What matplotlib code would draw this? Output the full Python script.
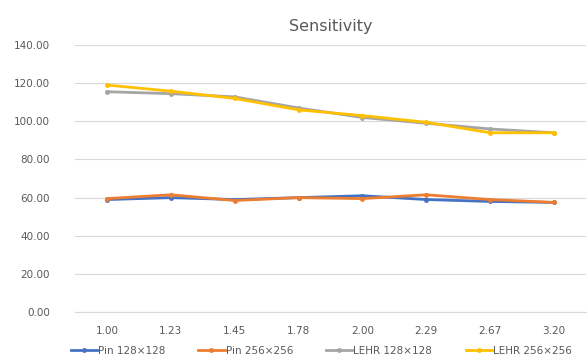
import matplotlib.pyplot as plt
import numpy as np

# chart data
categories = ["1.00", "1.23", "1.45", "1.78", "2.00", "2.29", "2.67", "3.20"]
pin_128 = [59.0, 60.0, 59.0, 60.0, 61.0, 59.0, 58.0, 57.5]
pin_256 = [59.5, 61.5, 58.5, 60.0, 59.5, 61.5, 59.0, 57.5]
lehr_128 = [115.5, 114.5, 112.8, 107.0, 102.0, 99.0, 96.0, 94.0]
lehr_256 = [119.0, 115.8, 112.0, 106.0, 103.0, 99.5, 94.0, 94.0]
series_names = ["Pin 128×128", "Pin 256×256", "LEHR 128×128", "LEHR 256×256"]
y_ticks = [0, 20, 40, 60, 80, 100, 120, 140]

colors = ["#4472C4", "#ED7D31", "#A5A5A5", "#FFC000"]
text_col = "#595959"

fig = plt.figure(figsize=(5.87, 3.6), dpi=100)
ax = fig.add_axes([0.128, 0.133, 0.87, 0.742])

x = np.arange(len(categories))
all_series = [pin_128, pin_256, lehr_128, lehr_256]
for vals, name, c in zip(all_series, series_names, colors):
    ax.plot(x, vals, color=c, lw=2, marker="o", markersize=2.5, label=name)

ax.set_xlim(-0.5, len(categories) - 0.5)
ax.set_ylim(0, 140)
ax.set_yticks(y_ticks)
ax.set_yticklabels(["%.2f" % v for v in y_ticks])
ax.set_xticks(x)
ax.set_xticklabels(categories)
ax.tick_params(length=0, colors=text_col, labelsize=7.5)
ax.tick_params(axis="x", pad=10)
ax.tick_params(axis="y", pad=18)
ax.grid(axis="y", color="#D9D9D9", lw=0.8)
ax.set_axisbelow(True)
for s in ["top", "right", "left"]:
    ax.spines[s].set_visible(False)
ax.spines["bottom"].set_color("#D9D9D9")

fig.text(0.563, 0.925, "Sensitivity", ha="center", va="center",
         fontsize=11.5, color=text_col)

fig.legend(loc="lower center", bbox_to_anchor=(0.547, -0.015), ncol=4,
           frameon=False, fontsize=7.5, handlelength=2.5, columnspacing=3.2,
           labelcolor=text_col, handletextpad=0.1)

fig.savefig("out.png", dpi=100)
